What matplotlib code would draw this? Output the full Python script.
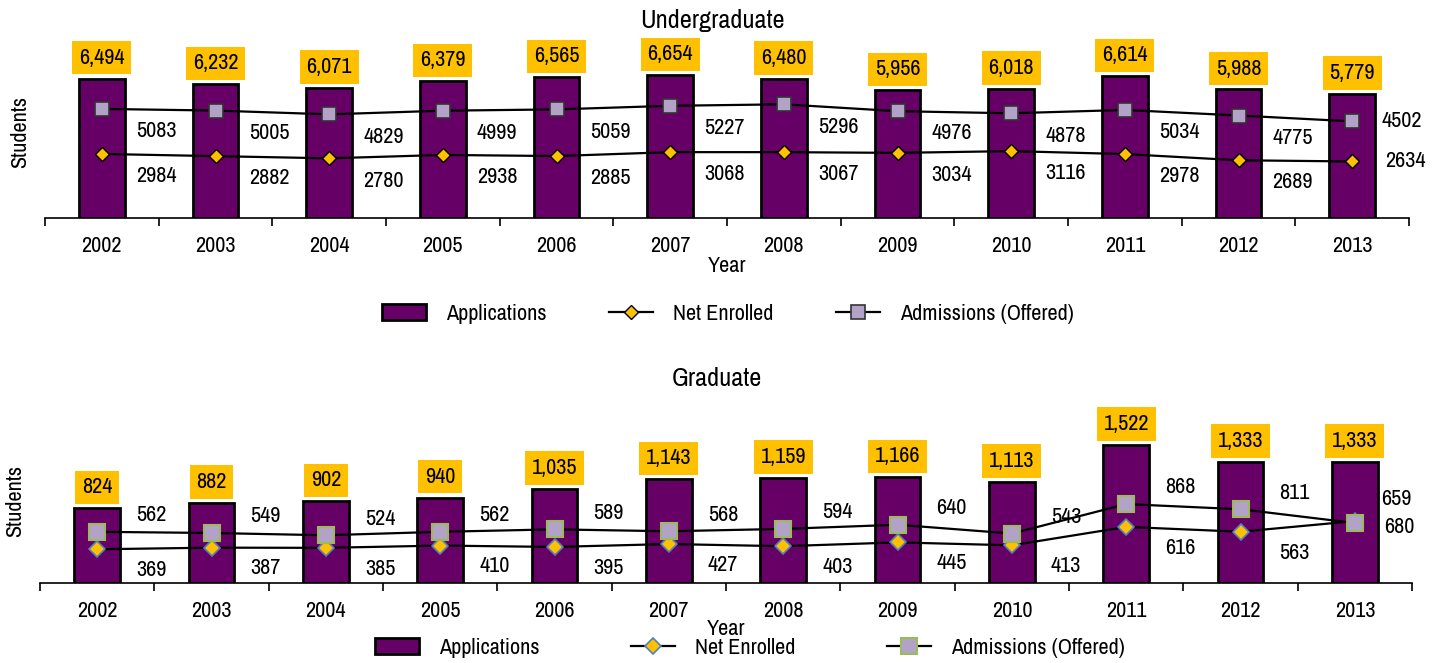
import numpy as np
import matplotlib
matplotlib.use("Agg")
import matplotlib.pyplot as plt
from matplotlib.lines import Line2D
from matplotlib.patches import Patch

plt.rcParams['font.family'] = ['Archivo Narrow', 'Liberation Sans', 'DejaVu Sans']

years = ['2002', '2003', '2004', '2005', '2006', '2007', '2008', '2009', '2010', '2011', '2012', '2013']

ug_applications = [6494, 6232, 6071, 6379, 6565, 6654, 6480, 5956, 6018, 6614, 5988, 5779]
ug_admissions = [5083, 5005, 4829, 4999, 5059, 5227, 5296, 4976, 4878, 5034, 4775, 4502]
ug_enrolled = [2984, 2882, 2780, 2938, 2885, 3068, 3067, 3034, 3116, 2978, 2689, 2634]

gr_applications = [824, 882, 902, 940, 1035, 1143, 1159, 1166, 1113, 1522, 1333, 1333]
gr_admissions = [562, 549, 524, 562, 589, 568, 594, 640, 543, 868, 811, 659]
gr_enrolled = [369, 387, 385, 410, 395, 427, 403, 445, 413, 616, 563, 680]

BAR = '#660066'
GOLD = '#FFC000'
LAV = '#B3A2C7'
FS = 16


def panel(ax, title, apps, adm, enr, ymax, grad, tpad, tx):
    x = np.arange(len(years))
    ax.bar(x, apps, width=0.4, color=BAR, edgecolor='black', linewidth=2, zorder=2)
    if grad:
        dia = dict(marker='D', markersize=8, markerfacecolor=GOLD, markeredgecolor='#4F81BD', markeredgewidth=1.2)
        sq = dict(marker='s', markersize=12, markerfacecolor=LAV, markeredgecolor='#9BBB59', markeredgewidth=1.5)
        adm_off, enr_off = (39, 12), (39, -15)
        last_adm, last_enr = (30, 17), (32, -4)
    else:
        dia = dict(marker='D', markersize=7, markerfacecolor=GOLD, markeredgecolor='black', markeredgewidth=1)
        sq = dict(marker='s', markersize=10, markerfacecolor=LAV, markeredgecolor='#333333', markeredgewidth=1.2)
        adm_off, enr_off = (39, -16), (39, -16)
        last_adm, last_enr = (36, 0), (38, 0)
    ax.plot(x, enr, color='black', linewidth=1.6, zorder=3, **dia)
    ax.plot(x, adm, color='black', linewidth=1.6, zorder=3, **sq)

    n = len(years)
    for i in x:
        ao = last_adm if i == n - 1 else adm_off
        eo = last_enr if i == n - 1 else enr_off
        ax.annotate(f'{apps[i]:,}', (i, apps[i]), xytext=(0, 15), textcoords='offset points',
                    ha='center', va='center', fontsize=FS, annotation_clip=False,
                    bbox=dict(boxstyle='square,pad=0.3', facecolor=GOLD, edgecolor='none'))
        ax.annotate(str(adm[i]), (i, adm[i]), xytext=ao, textcoords='offset points',
                    ha='center', va='center', fontsize=FS, annotation_clip=False)
        ax.annotate(str(enr[i]), (i, enr[i]), xytext=eo, textcoords='offset points',
                    ha='center', va='center', fontsize=FS, annotation_clip=False)

    ax.set_xlim(-0.5, n - 0.5)
    ax.set_ylim(0, ymax)
    ax.set_xticks(x)
    ax.set_xticklabels(years, fontsize=FS)
    ax.set_xticks(np.arange(n + 1) - 0.5, minor=True)
    ax.tick_params(axis='x', which='major', length=0, pad=13)
    ax.tick_params(axis='x', which='minor', length=6, width=1.2, direction='out')
    ax.set_yticks([])
    for s in ['top', 'right', 'left']:
        ax.spines[s].set_visible(False)
    ax.spines['bottom'].set_linewidth(1.2)
    ax.set_ylabel('Students', fontsize=FS, labelpad=11)
    ax.set_title(title, fontsize=19, pad=tpad, x=tx)

    handles = [Patch(facecolor=BAR, edgecolor='black', linewidth=2),
               Line2D([], [], color='black', linewidth=1.6, **dia),
               Line2D([], [], color='black', linewidth=1.6, **sq)]
    return handles


fig = plt.figure(figsize=(14.34, 6.63), dpi=100)
ax1 = fig.add_axes([0.0314, 0.6712, 0.9512, 0.259])
ax2 = fig.add_axes([0.0279, 0.1211, 0.9568, 0.2459])

h1 = panel(ax1, 'Undergraduate', ug_applications, ug_admissions, ug_enrolled, 8000, False, 13, 0.489)
ax1.set_xlabel('Year', fontsize=FS, labelpad=0)
ax1.legend(h1, ['Applications', 'Net Enrolled', 'Admissions (Offered)'], loc='center',
           bbox_to_anchor=(728 / 1434, 1 - 314 / 663), bbox_transform=fig.transFigure,
           ncol=3, frameon=False, fontsize=FS, handlelength=2.0, handletextpad=0.9,
           columnspacing=2.8)

h2 = panel(ax2, 'Graduate', gr_applications, gr_admissions, gr_enrolled, 1800, True, 24, 0.493)
ax2.set_xlabel('Year', fontsize=FS, labelpad=-1)
ax2.legend(h2, ['Applications', 'Net Enrolled', 'Admissions (Offered)'], loc='center',
           bbox_to_anchor=(750 / 1434, 1 - 648 / 663), bbox_transform=fig.transFigure,
           ncol=3, frameon=False, fontsize=FS, handlelength=2.0, handletextpad=0.9,
           columnspacing=4.1)

fig.savefig('out.png', dpi=100)
